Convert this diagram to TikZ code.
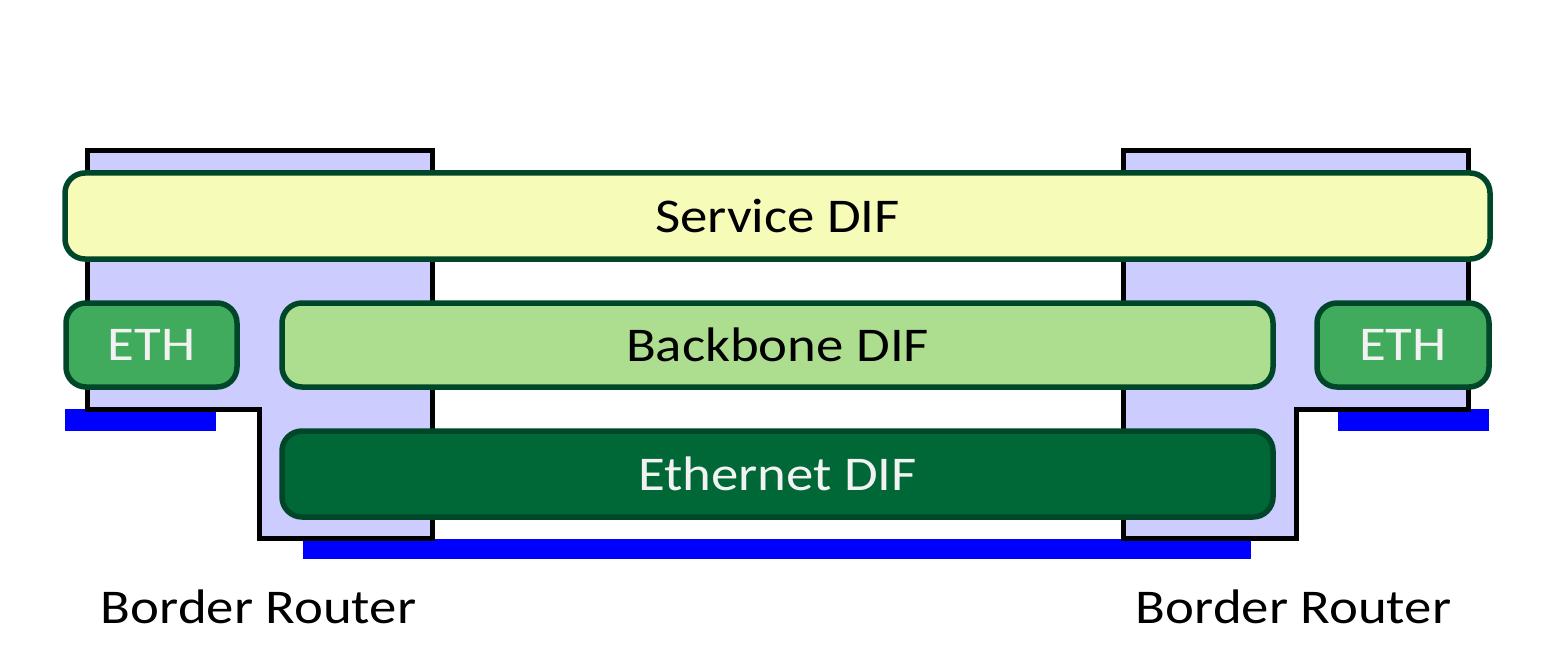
\documentclass[tikz,border=0pt]{standalone}
\usepackage{fontspec}
\setmainfont{Carlito}[FakeStretch=1.13]
\definecolor{routerfill}{HTML}{CCCCFF}
\definecolor{difborder}{HTML}{00472A}
\definecolor{servicefill}{HTML}{F6FBB8}
\definecolor{backbonefill}{HTML}{ADDE90}
\definecolor{ethfill}{HTML}{41AB5D}
\definecolor{ethernetfill}{HTML}{006837}
\definecolor{lighttext}{HTML}{F2F2F2}
\definecolor{wireblue}{HTML}{0000FF}
\begin{document}
\begin{tikzpicture}[x=1pt,y=-1pt,
  router/.style={fill=routerfill, draw=black, line width=5pt, line join=miter},
  wire/.style={fill=wireblue},
  dif/.style={draw=difborder, line width=5.5pt, rounded corners=20pt,
    inner sep=0pt, font=\fontsize{48.5}{56}\selectfont},
  label/.style={font=\fontsize{48.5}{56}\selectfont, anchor=base, inner sep=0pt}]
\useasboundingbox (0,0) rectangle (1563,655);

% physical links
\fill[wire] (65,409) rectangle (216,431);
\fill[wire] (1338,409) rectangle (1489,431);
\fill[wire] (303,539) rectangle (1251,559);

% border routers
\draw[router] (87,151) -- (432,151) -- (432,538) -- (259,538) -- (259,409) -- (87,409) -- cycle;
\draw[router] (1468,151) -- (1123,151) -- (1123,538) -- (1296,538) -- (1296,409) -- (1468,409) -- cycle;

% DIF layers
\node[dif, fill=servicefill, minimum width=1425pt, minimum height=86pt]
  (service) at (777.5,216) {Service DIF};
\node[dif, fill=backbonefill, minimum width=991pt, minimum height=84pt]
  (backbone) at (777.5,345) {Backbone DIF};
\node[dif, fill=ethernetfill, text=lighttext, minimum width=991pt, minimum height=86pt]
  (ethernet) at (777.5,474) {Ethernet DIF};
\node[dif, fill=ethfill, text=lighttext, minimum width=171pt, minimum height=84pt]
  (ethL) at (151.5,345) {ETH};
\node[dif, fill=ethfill, text=lighttext, minimum width=172pt, minimum height=84pt]
  (ethR) at (1403,345) {ETH};

% router captions
\node[label] (capL) at (258.5,623) {Border Router};
\node[label] (capR) at (1293.5,623) {Border Router};
\end{tikzpicture}
\end{document}
